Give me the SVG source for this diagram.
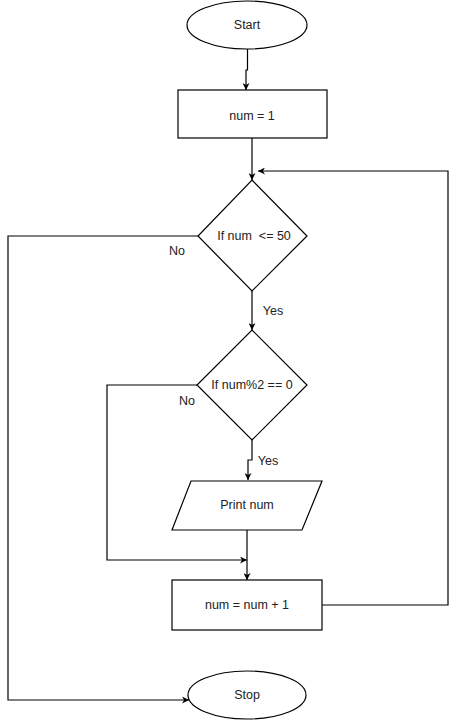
<svg xmlns="http://www.w3.org/2000/svg" width="456" height="721" viewBox="0 0 456 721">
<style>
.s{fill:#fff;stroke:#000;stroke-width:1.2}
.c{fill:none;stroke:#000;stroke-width:1.2}
.t{font-family:"Liberation Sans",Arial,sans-serif;font-size:12.5px;fill:#222;text-anchor:middle;dominant-baseline:central;white-space:pre}
</style>
<defs>
<marker id="a" viewBox="0 0 10 10" refX="10" refY="5" markerWidth="7" markerHeight="7" markerUnits="userSpaceOnUse" orient="auto">
<path d="M0,0 L10,5 L0,10 L3,5 Z" fill="#000"/>
</marker>
</defs>
<rect width="456" height="721" fill="#fff"/>
<g id="connectors">
<path class="c" d="M247.5,48 V70 H246 V90" marker-end="url(#a)"/>
<path class="c" d="M252,138 V180" marker-end="url(#a)"/>
<path class="c" d="M252,291 V330" marker-end="url(#a)"/>
<path class="c" d="M252,440 V460 H248 V480" marker-end="url(#a)"/>
<path class="c" d="M247,530 V580" marker-end="url(#a)"/>
<path class="c" d="M197,385 H107 V560 H247" marker-end="url(#a)"/>
<path class="c" d="M198,236 H8 V700 H189" marker-end="url(#a)"/>
<path class="c" d="M322,605 H448 V171 H258" marker-end="url(#a)"/>
<text class="t" x="177" y="251">No</text>
<text class="t" x="273" y="311">Yes</text>
<text class="t" x="187" y="401">No</text>
<text class="t" x="268" y="461">Yes</text>
</g>
<g id="start">
<ellipse class="s" cx="247" cy="25" rx="60" ry="24"/>
<text class="t" x="247" y="25">Start</text>
</g>
<g id="init">
<rect class="s" x="178" y="90" width="149" height="48"/>
<text class="t" x="252" y="116">num = 1</text>
</g>
<g id="cond1">
<polygon class="s" points="252,180 307,236 252,291 198,236"/>
<text class="t" x="254" y="236" xml:space="preserve">If num  &lt;= 50</text>
</g>
<g id="cond2">
<polygon class="s" points="252,330 307,385 252,440 197,385"/>
<text class="t" x="252" y="385">If num%2 == 0</text>
</g>
<g id="print">
<polygon class="s" points="191,481 322,481 302,530 172,530"/>
<text class="t" x="247" y="505">Print num</text>
</g>
<g id="incr">
<rect class="s" x="172" y="580" width="150" height="50"/>
<text class="t" x="247" y="605">num = num + 1</text>
</g>
<g id="stop">
<ellipse class="s" cx="247" cy="695" rx="59" ry="24"/>
<text class="t" x="247" y="695">Stop</text>
</g>
</svg>
